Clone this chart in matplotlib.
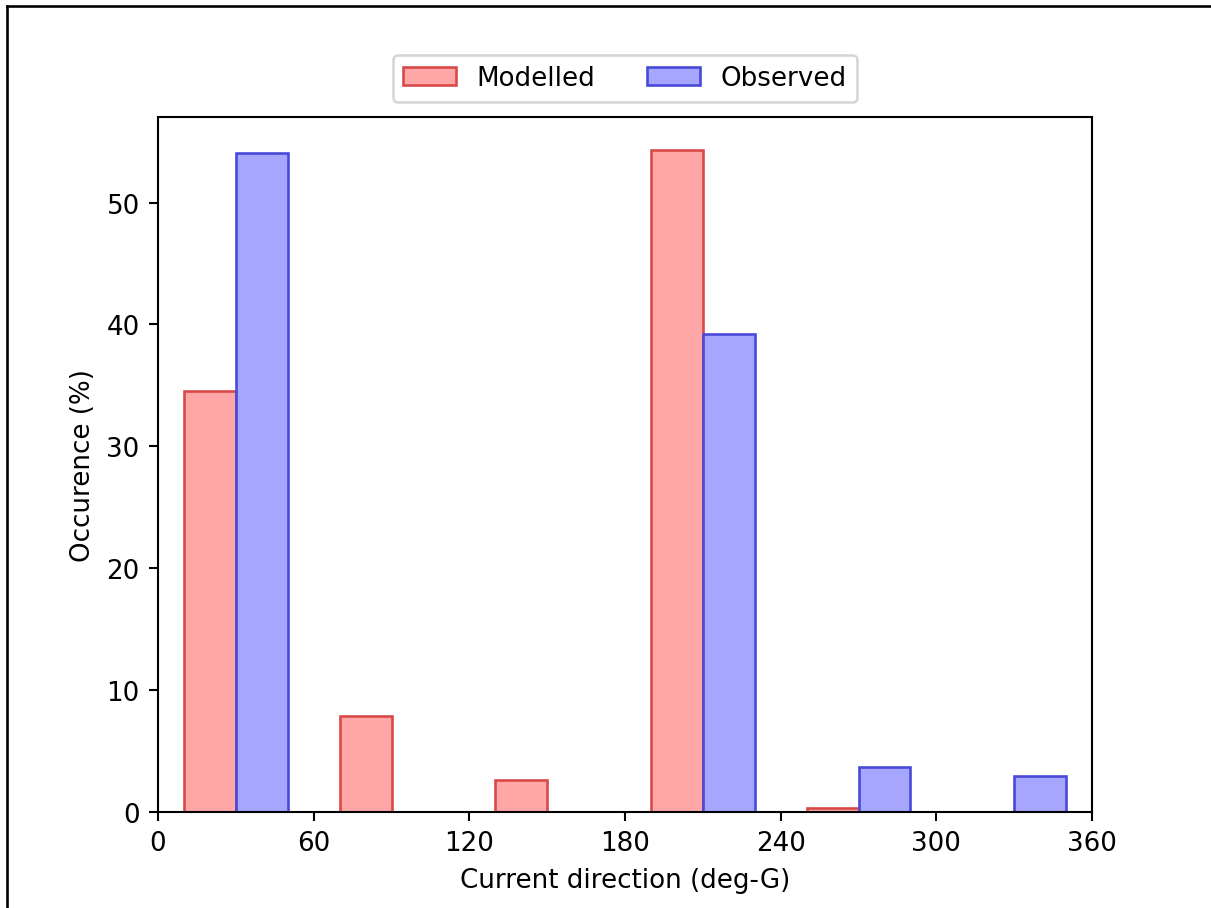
import matplotlib
matplotlib.use("Agg")
import matplotlib.pyplot as plt
import numpy as np
from matplotlib.lines import Line2D

bin_edges = [0, 60, 120, 180, 240, 300, 360]
modelled = [34.5, 7.85, 2.6, 54.3, 0.3, 0.0]
observed = [54.1, 0.0, 0.0, 39.2, 3.7, 2.95]
labels = ["Modelled", "Observed"]
xticks = [0, 60, 120, 180, 240, 300, 360]

W, H, DPI = 1211, 909, 188
fig = plt.figure(figsize=(W / DPI, H / DPI), dpi=DPI)
ax = fig.add_axes([158 / W, 1 - 813 / H, (1092 - 158) / W, (813 - 118) / H])

edges = np.array(bin_edges, dtype=float)
mids = (edges[:-1] + edges[1:]) / 2
bw = 20
ax.bar(mids - bw / 2, modelled, width=bw, facecolor="#ffa6a6", edgecolor="#d94848",
       linewidth=1.0, label=labels[0])
ax.bar(mids + bw / 2, observed, width=bw, facecolor="#a6a6ff", edgecolor="#4848d9",
       linewidth=1.0, label=labels[1])

ax.set_xlim(0, 360)
ax.set_xticks(xticks)
ax.set_xlabel("Current direction (deg-G)")
ax.set_ylabel("Occurence (%)")

ax.legend(loc="lower center", bbox_to_anchor=(0.5, 1.003), ncol=2)

# partial frame from cropped screenshot (top and left edges)
fig.add_artist(Line2D([7 / W, 7 / W], [0, 1 - 7 / H], color="black", linewidth=1.0,
                      transform=fig.transFigure))
fig.add_artist(Line2D([7 / W, 1], [1 - 7 / H, 1 - 7 / H], color="black", linewidth=1.0,
                      transform=fig.transFigure))

fig.savefig("out.png", dpi=DPI)
